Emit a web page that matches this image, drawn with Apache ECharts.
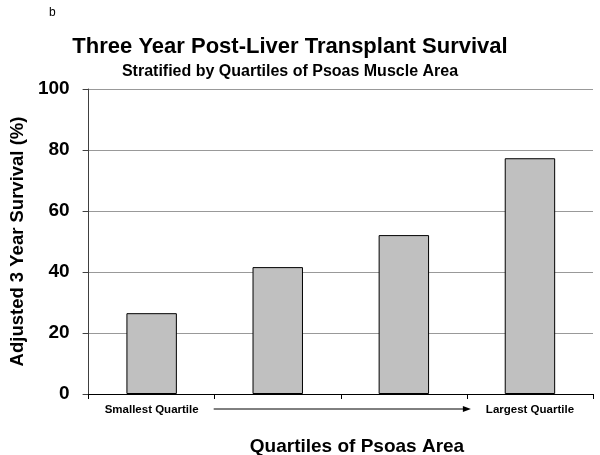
<!DOCTYPE html>
<html>
<head>
<meta charset="utf-8">
<script src="https://cdn.jsdelivr.net/npm/echarts@6/dist/echarts.min.js"></script>
<style>html,body{margin:0;padding:0;background:#fff}#c{width:600px;height:455px}</style>
</head>
<body>
<div id="c"></div>
<script>
const categories = ['Smallest Quartile', '', '', 'Largest Quartile'];
const survival = [26.5, 41.6, 52.1, 77.3];
const yTicks = [0, 20, 40, 60, 80, 100];

const FONT = '"Liberation Sans", Arial, sans-serif';
const chart = echarts.init(document.getElementById('c'), null, {renderer: 'canvas'});
chart.setOption({
  animation: false,
  backgroundColor: '#fff',
  title: [
    {text: 'b', left: 44, top: 2, textStyle: {fontFamily: FONT, fontSize: 12, fontWeight: 'normal', color: '#000'}},
    {text: 'Three Year Post-Liver Transplant Survival', left: 285, top: 31, textAlign: 'center',
     textStyle: {fontFamily: FONT, fontSize: 22, fontWeight: 'bold', color: '#000'}},
    {text: 'Stratified by Quartiles of Psoas Muscle Area', left: 285, top: 59, textAlign: 'center',
     textStyle: {fontFamily: FONT, fontSize: 16, fontWeight: 'bold', color: '#000'}},
    {text: 'Quartiles of Psoas Area', left: 352, top: 432, textAlign: 'center',
     textStyle: {fontFamily: FONT, fontSize: 19, fontWeight: 'bold', color: '#000'}}
  ],
  grid: {left: 87, right: 7, top: 89, bottom: 61, containLabel: false},
  xAxis: {
    type: 'category',
    data: categories,
    axisLine: {lineStyle: {color: '#000', width: 1}},
    axisTick: {show: true, length: 5, alignWithLabel: false, lineStyle: {color: '#000'}},
    axisLabel: {fontFamily: FONT, fontSize: 11.5, fontWeight: 'bold', color: '#000', margin: 10, interval: 0}
  },
  yAxis: {
    type: 'value',
    min: 0, max: 100, interval: 20,
    name: 'Adjusted 3 Year Survival (%)',
    nameLocation: 'middle',
    nameGap: 57,
    nameRotate: 90,
    nameTextStyle: {fontFamily: FONT, fontSize: 18.5, fontWeight: 'bold', color: '#000'},
    axisLine: {show: true, lineStyle: {color: '#404040', width: 1}},
    axisTick: {show: true, length: 6, inside: false, lineStyle: {color: '#404040'}},
    axisLabel: {fontFamily: FONT, fontSize: 19, fontWeight: 'bold', color: '#000', margin: 19,
      formatter: v => yTicks.includes(v) ? String(v) : ''},
    splitLine: {show: true, lineStyle: {color: '#999', width: 1}}
  },
  series: [{
    type: 'bar',
    data: survival,
    barWidth: '40%',
    itemStyle: {color: '#c0c0c0', borderColor: '#000', borderWidth: 1}
  }]
});

// Arrow annotation between the quartile labels, positioned via axis scale
const c0 = chart.convertToPixel({xAxisIndex: 0}, 0);
const c1 = chart.convertToPixel({xAxisIndex: 0}, 1);
const band = c1 - c0;
const x1 = c0 + band / 2 - 1;
const x2 = c0 + band * 2.5 + 4;
const yPix = chart.convertToPixel({yAxisIndex: 0}, 0) + 15;
chart.setOption({
  graphic: [
    {type: 'line', shape: {x1: x1, y1: yPix, x2: x2 - 6, y2: yPix}, style: {stroke: '#000', lineWidth: 1}},
    {type: 'polygon', shape: {points: [[x2, yPix], [x2 - 8, yPix - 3], [x2 - 8, yPix + 3]]}, style: {fill: '#000'}}
  ]
});
</script>
</body>
</html>
